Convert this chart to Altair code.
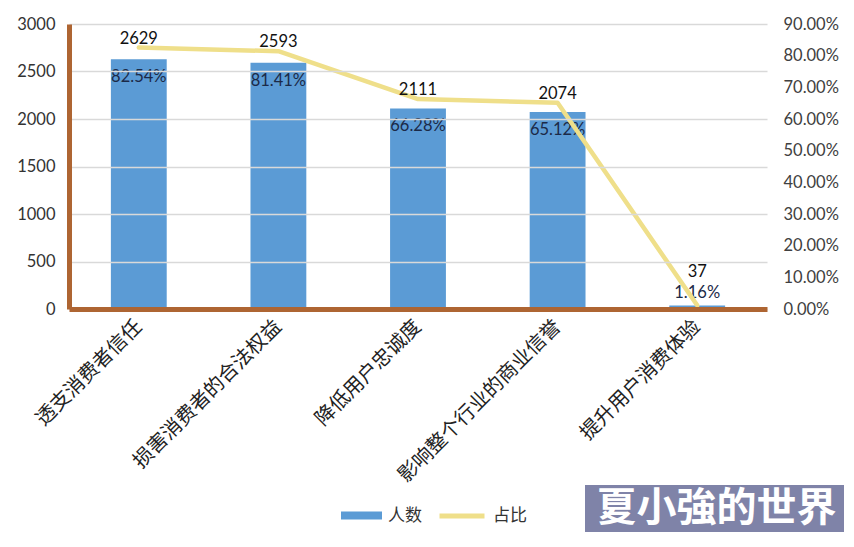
import altair as alt
import pandas as pd

categories = ["透支消费者信任", "损害消费者的合法权益", "降低用户忠诚度", "影响整个行业的商业信誉", "提升用户消费体验"]
counts = [2629, 2593, 2111, 2074, 37]
pcts = [0.8254, 0.8141, 0.6628, 0.6512, 0.0116]
left_ticks = [0, 500, 1000, 1500, 2000, 2500, 3000]
right_ticks = [0, 0.1, 0.2, 0.3, 0.4, 0.5, 0.6, 0.7, 0.8, 0.9]
series_names = ["人数", "占比"]
watermark = "夏小強的世界"

df = pd.DataFrame({"cat": categories, "count": counts, "pct": pcts})
df["s1"] = series_names[0]
df["s2"] = series_names[1]

BLUE = "#5B9BD5"
YELLOW = "#EFDF8A"
BROWN = "#AE6532"
NUM_FONT = "Lato"
CJK = "Noto Sans CJK SC"
last = categories[-1]

x = alt.X("cat:N", sort=categories, title=None,
          scale=alt.Scale(paddingInner=0.6, paddingOuter=0.3),
          axis=alt.Axis(labelAngle=315, labelFont=CJK, labelFontSize=20, labelColor="#222",
                        labelAlign="right", labelBaseline="middle", labelPadding=14, labelLimit=0,
                        domainColor=BROWN, domainWidth=5, ticks=False, zindex=1))

base = alt.Chart(df)

y_count = alt.Y("count:Q", title=None, scale=alt.Scale(domain=[0, 3000]),
                axis=alt.Axis(values=left_ticks, format="d", labelFont=NUM_FONT, labelFontSize=16.5,
                              labelColor="#333", domainColor=BROWN, domainWidth=5, ticks=False,
                              labelPadding=14, gridColor="#D9D9D9", gridWidth=1.5, zindex=1,
                              labelOverlap=False))

bars = base.mark_bar(color=BLUE).encode(
    x=x, y=y_count,
    color=alt.Color("s1:N", scale=alt.Scale(domain=[series_names[0]], range=[BLUE]),
                    legend=alt.Legend(orient="none", legendX=272, legendY=471, title=None,
                                      symbolType="M-1,-0.2L1,-0.2L1,0.2L-1,0.2Z", symbolSize=1681,
                                      symbolStrokeWidth=0, symbolOpacity=1, labelFont=CJK,
                                      labelFontSize=17, labelColor="#333", labelOffset=6, padding=0)),
)
pct_txt = base.mark_text(font=NUM_FONT, fontSize=16.5, color="#1B2A48", dy=18).encode(
    x=x, y=y_count, text=alt.Text("pct:Q", format=".2%")
).transform_filter(alt.datum.cat != last)
pct_txt_last = base.mark_text(font=NUM_FONT, fontSize=16.5, color="#1B2A48", dy=-12).encode(
    x=x, y=y_count, text=alt.Text("pct:Q", format=".2%")
).transform_filter(alt.datum.cat == last)

left_layer = alt.layer(bars, pct_txt, pct_txt_last)

y_pct = alt.Y("pct:Q", title=None, scale=alt.Scale(domain=[0, 0.9]),
              axis=alt.Axis(orient="right", values=right_ticks, format=".2%", labelFont=NUM_FONT,
                            labelFontSize=16.5, labelColor="#404040", domain=False, ticks=False,
                            grid=False, labelPadding=16, labelOverlap=False))

line = base.mark_line(strokeWidth=4.5, strokeCap="round", strokeJoin="round").encode(
    x=x, y=y_pct,
    stroke=alt.Stroke("s2:N", scale=alt.Scale(domain=[series_names[1]], range=[YELLOW]),
                      legend=alt.Legend(orient="none", legendX=368, legendY=467, title=None,
                                        symbolType="stroke", symbolSize=2025, symbolStrokeWidth=5,
                                        symbolOpacity=1, labelFont=CJK, labelFontSize=17,
                                        labelColor="#333", labelOffset=6, padding=0)),
)
cnt_txt = base.mark_text(font=NUM_FONT, fontSize=16.5, color="#111", dy=-9).encode(
    x=x, y=y_pct, text="count:Q"
).transform_filter(alt.datum.cat != last)
cnt_txt_last = base.mark_text(font=NUM_FONT, fontSize=16.5, color="#111", dy=-33).encode(
    x=x, y=y_pct, text="count:Q"
).transform_filter(alt.datum.cat == last)

right_layer = alt.layer(line, cnt_txt, cnt_txt_last)

wm_df = pd.DataFrame({"t": [watermark]})
wm_rect = alt.Chart(wm_df).mark_rect(color="#7F83A8").encode(
    x=alt.value(516), x2=alt.value(779), y=alt.value(461), y2=alt.value(508))
wm_text = alt.Chart(wm_df).mark_text(font="Noto Sans CJK TC", fontSize=40, fontWeight="bold",
                                     color="white", baseline="middle", align="center").encode(
    x=alt.value(647.5), y=alt.value(485), text="t:N")

chart = alt.layer(left_layer, right_layer, wm_rect, wm_text).resolve_scale(
    y="independent", color="independent", stroke="independent"
).properties(
    width=698, height=285,
    autosize=alt.AutoSizeParams(type="none"),
    padding={"left": 61, "top": 16, "right": 77, "bottom": 230},
).configure_view(stroke=None)

chart.save("out.html", embed_options={"renderer": "svg", "actions": False})
